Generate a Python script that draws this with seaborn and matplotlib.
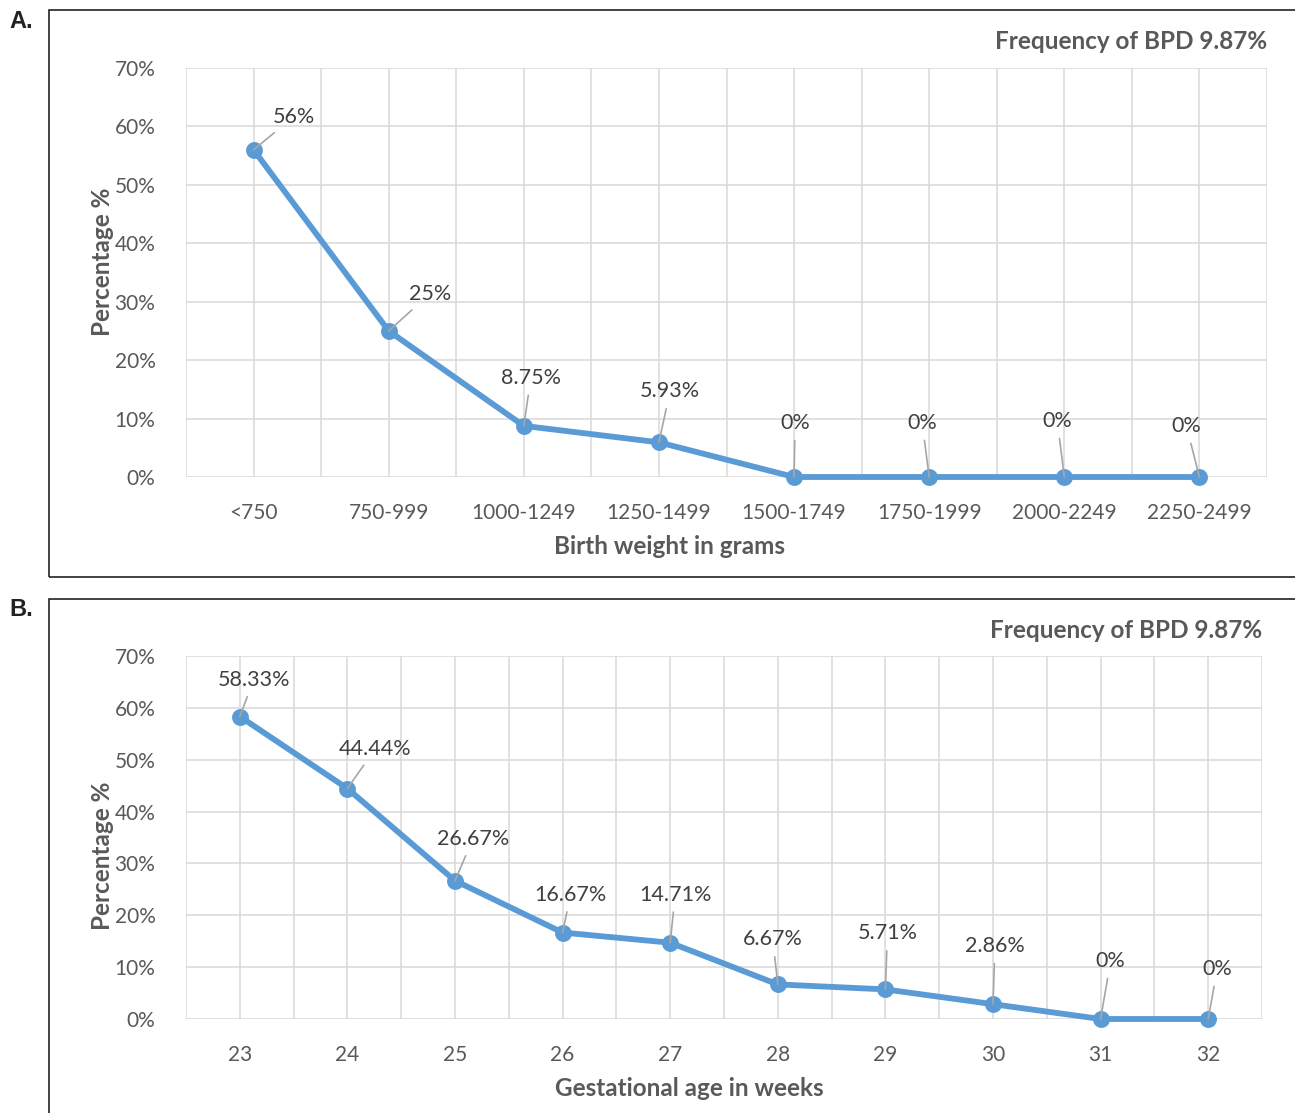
import numpy as np
import pandas as pd
import matplotlib
matplotlib.use("Agg")
import matplotlib.pyplot as plt
import seaborn as sns
from matplotlib.ticker import MultipleLocator, FuncFormatter

# data
weight_groups = ["<750", "750-999", "1000-1249", "1250-1499",
                 "1500-1749", "1750-1999", "2000-2249", "2250-2499"]
weight_pct = [56, 25, 8.75, 5.93, 0, 0, 0, 0]
weight_labels = ["56%", "25%", "8.75%", "5.93%", "0%", "0%", "0%", "0%"]

ga_weeks = ["23", "24", "25", "26", "27", "28", "29", "30", "31", "32"]
ga_pct = [58.33, 44.44, 26.67, 16.67, 14.71, 6.67, 5.71, 2.86, 0, 0]
ga_labels = ["58.33%", "44.44%", "26.67%", "16.67%", "14.71%",
             "6.67%", "5.71%", "2.86%", "0%", "0%"]

bpd_freq = "Frequency of BPD 9.87%"

# label offsets in pixels (dx, dy up)
weight_offsets = [(40, 33), (41, 37), (7, 48), (11, 51), (1, 54), (-7, 54), (-7, 56), (-13, 51)]
ga_offsets = [(14, 37), (28, 40), (18, 42), (8, 38), (5, 48), (-5, 45), (2, 56), (2, 58), (10, 58), (9, 50)]

sns.set_theme(style="white")
plt.rcParams['font.family'] = ['Lato', 'DejaVu Sans']

LINE = "#5B9BD5"
GRID = "#D9D9D9"
TXT = "#595959"

fig = plt.figure(figsize=(12.95, 11.13), dpi=100)
W, H = 1295, 1113


def fax(x0, y0, x1, y1):
    return fig.add_axes([x0 / W, 1 - y1 / H, (x1 - x0) / W, (y1 - y0) / H])


def draw_panel(ax, cats, vals, labels, offsets, xlabel, xl_pos, yl_pos, title_y):
    df = pd.DataFrame({"cat": cats, "val": vals})
    sns.pointplot(data=df, x="cat", y="val", color=LINE, ax=ax,
                  markers="o", markersize=9, linewidth=4.2)
    for ln in ax.lines:
        ln.set_clip_on(False)
    for c in ax.collections:
        c.set_clip_on(False)
    n = len(cats)
    ax.set_xlim(-0.5, n - 0.5)
    ax.set_ylim(0, 70)
    ax.yaxis.set_major_locator(MultipleLocator(10))
    ax.yaxis.set_major_formatter(FuncFormatter(lambda v, p: f"{v:.0f}%"))
    ax.xaxis.set_minor_locator(MultipleLocator(1, offset=0.5))
    ax.set_axisbelow(True)
    ax.grid(True, which="both", axis="x", color=GRID, lw=1.1)
    ax.grid(True, which="major", axis="y", color=GRID, lw=1.1)
    for s in ax.spines.values():
        s.set_visible(False)
    ax.tick_params(axis="both", which="both", length=0, labelsize=15, colors=TXT)
    ax.tick_params(axis="y", pad=22)
    ax.tick_params(axis="x", pad=19)
    ax.set_xlabel(xlabel, fontsize=17.5, fontweight="bold", color=TXT)
    ax.set_ylabel("Percentage %", fontsize=17.5, fontweight="bold", color=TXT)
    ax.xaxis.set_label_coords(*xl_pos)
    ax.yaxis.set_label_coords(*yl_pos)
    for i, (v, lab, off) in enumerate(zip(vals, labels, offsets)):
        ax.annotate(lab, xy=(i, v), xytext=off, textcoords="offset pixels",
                    ha="center", va="center", fontsize=15.5, color="#404040",
                    arrowprops=dict(arrowstyle="-", color="#A6A6A6", lw=1.2,
                                    shrinkA=3, shrinkB=0))
    ax.text(1.0, title_y, bpd_freq, transform=ax.transAxes, ha="right", va="center",
            fontsize=17.5, fontweight="bold", color=TXT)


# axes A: x 186..1267, y 68..477
axA = fax(186, 68, 1267, 477)
draw_panel(axA, weight_groups, weight_pct, weight_labels, weight_offsets,
           "Birth weight in grams",
           ((669 - 186) / 1081, -(547 - 477) / 409),
           ((102 - 186) / 1081, (477 - 262) / 409), 1.0636)

# axes B: x 186..1262, y 656..1019
axB = fax(186, 656, 1262, 1019)
draw_panel(axB, ga_weeks, ga_pct, ga_labels, ga_offsets,
           "Gestational age in weeks",
           ((689 - 186) / 1076, -(1089 - 1019) / 363),
           ((102 - 186) / 1076, (1019 - 856) / 363), 1.0716)
for ax in (axA, axB):
    ax.xaxis.label.set_va("center")
    ax.yaxis.label.set_va("center")

# panel frames
for y0, y1 in [(10, 577), (599, 1120)]:
    fig.add_artist(plt.Rectangle((49 / W, 1 - y1 / H), (1300 - 49) / W, (y1 - y0) / H,
                                 transform=fig.transFigure, fill=False,
                                 edgecolor="#222222", lw=1.2))

fig.text(9 / W, 1 - 21 / H, "A.", fontsize=17, fontweight="bold",
         family="Liberation Sans", va="center", ha="left", color="#222222")
fig.text(9 / W, 1 - 609 / H, "B.", fontsize=17, fontweight="bold",
         family="Liberation Sans", va="center", ha="left", color="#222222")

fig.savefig("out.png", dpi=100, facecolor="white")
